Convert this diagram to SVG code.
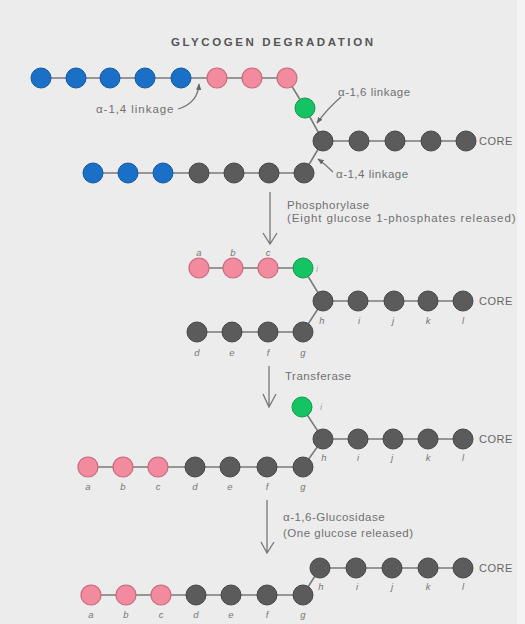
<svg xmlns="http://www.w3.org/2000/svg" width="525" height="624" viewBox="0 0 525 624">
<defs>
<style>
.bg{fill:#ececec}
.bond{stroke:#7a7a7a;stroke-width:1.6;fill:none}
.blue{fill:#1a6fc6;stroke:#10589f;stroke-width:1}
.pink{fill:#f28b9e;stroke:#c96a7e;stroke-width:1.2}
.green{fill:#14c463;stroke:#0e9a4c;stroke-width:1}
.gray{fill:#5b5b5b;stroke:#464646;stroke-width:1}
.t{font-family:"Liberation Sans",Arial,sans-serif;font-size:11.5px;letter-spacing:0.5px;fill:#707070}
.title{font-family:"Liberation Sans",Arial,sans-serif;font-size:11.5px;font-weight:bold;fill:#555}
.lab{font-family:"Liberation Sans",Arial,sans-serif;font-size:9.5px;font-style:italic;fill:#777;text-anchor:middle}
.core{font-family:"Liberation Sans",Arial,sans-serif;font-size:11px;letter-spacing:0.5px;fill:#666}
.arr{stroke:#777;stroke-width:1.3;fill:none}
.ptr{stroke:#777;stroke-width:1.3;fill:none;marker-end:url(#ah)}
</style>
<marker id="ah" viewBox="0 0 10 10" refX="9" refY="5" markerWidth="5" markerHeight="5" orient="auto">
<path d="M0,1 L10,5 L0,9 Z" fill="#666"/>
</marker>
</defs>
<rect class="bg" x="0" y="0" width="525" height="624"/>
<rect x="517" y="0" width="8" height="624" fill="#f4f4f4"/>
<text class="title" x="272" y="46" text-anchor="middle" textLength="202" lengthAdjust="spacing">GLYCOGEN DEGRADATION</text>

<g id="connectors">
<!-- stage 1 bonds -->
<path class="bond" d="M41,78 H287 L305,108 L323,141 H466 M93,173 H304 L323,141"/>
<!-- stage 2 bonds -->
<path class="bond" d="M199,268 H303 L323,301 H463 M197,332 H303 L323,301"/>
<!-- stage 3 bonds -->
<path class="bond" d="M302,407 L323,439 H463 M88,467 H303 L323,439"/>
<!-- stage 4 bonds -->
<path class="bond" d="M320,568 H463 M91,595 H303 L320,568"/>
<!-- linkage pointers -->
<path class="ptr" d="M178,109 Q198,103 199,84"/>
<path class="ptr" d="M341,97 Q328,108 317,123"/>
<path class="ptr" d="M333,172 Q326,165 318,159"/>
<!-- process arrows -->
<path class="arr" d="M270,192 V244 M263,233 L270,244 L277,233"/>
<path class="arr" d="M269,366 V407 M263,394 L269,407 L276,394"/>
<path class="arr" d="M267,500 V553 M261,542 L267,553 L274,542"/>
</g>

<g id="stage1">
<circle class="blue" cx="41" cy="78" r="10"/>
<circle class="blue" cx="76" cy="78" r="10"/>
<circle class="blue" cx="110" cy="78" r="10"/>
<circle class="blue" cx="145" cy="78" r="10"/>
<circle class="blue" cx="181" cy="78" r="10"/>
<circle class="pink" cx="217" cy="78" r="10"/>
<circle class="pink" cx="252" cy="78" r="10"/>
<circle class="pink" cx="287" cy="78" r="10"/>
<circle class="green" cx="305" cy="108" r="10"/>
<circle class="gray" cx="323" cy="141" r="10"/>
<circle class="gray" cx="359" cy="141" r="10"/>
<circle class="gray" cx="395" cy="141" r="10"/>
<circle class="gray" cx="431" cy="141" r="10"/>
<circle class="gray" cx="466" cy="141" r="10"/>
<circle class="blue" cx="93" cy="173" r="10"/>
<circle class="blue" cx="128" cy="173" r="10"/>
<circle class="blue" cx="163" cy="173" r="10"/>
<circle class="gray" cx="199" cy="173" r="10"/>
<circle class="gray" cx="234" cy="173" r="10"/>
<circle class="gray" cx="269" cy="173" r="10"/>
<circle class="gray" cx="304" cy="173" r="10"/>
<text class="core" x="479" y="145">CORE</text>
<text class="t" x="96" y="113" textLength="78" lengthAdjust="spacing">α-1,4 linkage</text>
<text class="t" x="338" y="96">α-1,6 linkage</text>
<text class="t" x="336" y="178">α-1,4 linkage</text>
</g>

<g id="step-phosphorylase">
<text class="t" x="287" y="209">Phosphorylase</text>
<text class="t" x="287" y="222" textLength="229" lengthAdjust="spacing">(Eight glucose 1-phosphates released)</text>
</g>

<g id="stage2">
<circle class="pink" cx="199" cy="268" r="10"/>
<circle class="pink" cx="233" cy="268" r="10"/>
<circle class="pink" cx="268" cy="268" r="10"/>
<circle class="green" cx="303" cy="268" r="10"/>
<circle class="gray" cx="323" cy="301" r="10"/>
<circle class="gray" cx="358" cy="301" r="10"/>
<circle class="gray" cx="394" cy="301" r="10"/>
<circle class="gray" cx="428" cy="301" r="10"/>
<circle class="gray" cx="463" cy="301" r="10"/>
<circle class="gray" cx="197" cy="332" r="10"/>
<circle class="gray" cx="232" cy="332" r="10"/>
<circle class="gray" cx="268" cy="332" r="10"/>
<circle class="gray" cx="303" cy="332" r="10"/>
<text class="core" x="479" y="305">CORE</text>
<text class="lab" x="199" y="256">a</text>
<text class="lab" x="233" y="256">b</text>
<text class="lab" x="268" y="256">c</text>
<text class="lab" x="317" y="272" style="fill:#9ab8a0">i</text>
<text class="lab" x="322" y="324">h</text>
<text class="lab" x="359" y="324">i</text>
<text class="lab" x="393" y="324">j</text>
<text class="lab" x="428" y="324">k</text>
<text class="lab" x="463" y="324">l</text>
<text class="lab" x="197" y="356">d</text>
<text class="lab" x="232" y="356">e</text>
<text class="lab" x="268" y="356">f</text>
<text class="lab" x="303" y="356">g</text>
</g>

<g id="step-transferase">
<text class="t" x="285" y="380">Transferase</text>
</g>

<g id="stage3">
<circle class="green" cx="302" cy="407" r="10"/>
<circle class="gray" cx="323" cy="439" r="10"/>
<circle class="gray" cx="358" cy="439" r="10"/>
<circle class="gray" cx="393" cy="439" r="10"/>
<circle class="gray" cx="428" cy="439" r="10"/>
<circle class="gray" cx="463" cy="439" r="10"/>
<circle class="pink" cx="88" cy="467" r="10"/>
<circle class="pink" cx="123" cy="467" r="10"/>
<circle class="pink" cx="158" cy="467" r="10"/>
<circle class="gray" cx="195" cy="467" r="10"/>
<circle class="gray" cx="230" cy="467" r="10"/>
<circle class="gray" cx="267" cy="467" r="10"/>
<circle class="gray" cx="303" cy="467" r="10"/>
<text class="core" x="479" y="443">CORE</text>
<text class="lab" x="321" y="410" style="fill:#a0a8a0">i</text>
<text class="lab" x="324" y="461">h</text>
<text class="lab" x="358" y="461">i</text>
<text class="lab" x="392" y="461">j</text>
<text class="lab" x="428" y="461">k</text>
<text class="lab" x="463" y="461">l</text>
<text class="lab" x="88" y="490">a</text>
<text class="lab" x="123" y="490">b</text>
<text class="lab" x="158" y="490">c</text>
<text class="lab" x="195" y="490">d</text>
<text class="lab" x="230" y="490">e</text>
<text class="lab" x="267" y="490">f</text>
<text class="lab" x="303" y="490">g</text>
</g>

<g id="step-glucosidase">
<text class="t" x="283" y="521">α-1,6-Glucosidase</text>
<text class="t" x="283" y="537">(One glucose released)</text>
</g>

<g id="stage4">
<circle class="gray" cx="320" cy="568" r="10"/>
<circle class="gray" cx="356" cy="568" r="10"/>
<circle class="gray" cx="392" cy="568" r="10"/>
<circle class="gray" cx="428" cy="568" r="10"/>
<circle class="gray" cx="463" cy="568" r="10"/>
<circle class="pink" cx="91" cy="595" r="10"/>
<circle class="pink" cx="126" cy="595" r="10"/>
<circle class="pink" cx="161" cy="595" r="10"/>
<circle class="gray" cx="196" cy="595" r="10"/>
<circle class="gray" cx="231" cy="595" r="10"/>
<circle class="gray" cx="267" cy="595" r="10"/>
<circle class="gray" cx="303" cy="595" r="10"/>
<text class="core" x="479" y="572">CORE</text>
<text class="lab" x="321" y="590">h</text>
<text class="lab" x="357" y="590">i</text>
<text class="lab" x="392" y="590">j</text>
<text class="lab" x="428" y="590">k</text>
<text class="lab" x="463" y="590">l</text>
<text class="lab" x="91" y="618">a</text>
<text class="lab" x="126" y="618">b</text>
<text class="lab" x="161" y="618">c</text>
<text class="lab" x="196" y="618">d</text>
<text class="lab" x="231" y="618">e</text>
<text class="lab" x="267" y="618">f</text>
<text class="lab" x="303" y="618">g</text>
</g>
</svg>
